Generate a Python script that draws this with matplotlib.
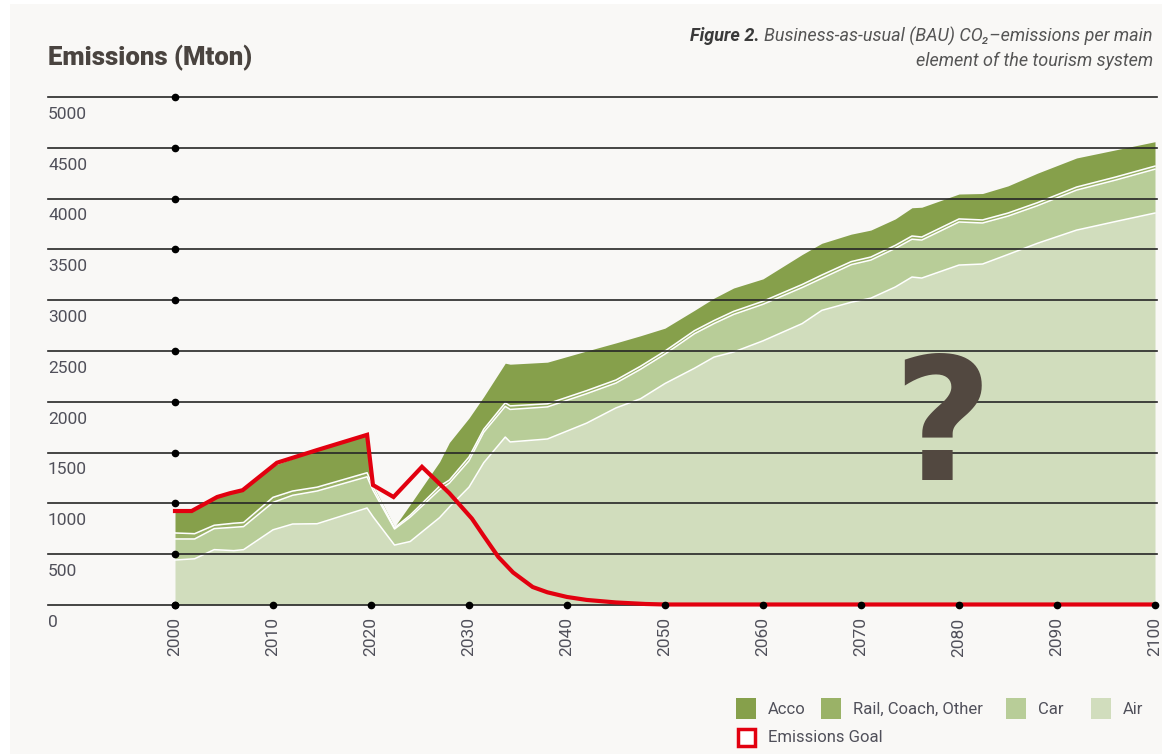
import matplotlib.pyplot as plt
from matplotlib.patches import Rectangle

# Datos (Mton)
years = [2000, 2002, 2004, 2006, 2007, 2010, 2012, 2014.5, 2019.6, 2020.2,
         2022.4, 2024, 2027, 2028, 2030, 2031.5, 2033.7, 2034.2, 2038, 2042,
         2045, 2047.5, 2050, 2053, 2055, 2057, 2060, 2064, 2066, 2069,
         2071, 2073.5, 2075.2, 2076.2, 2080, 2082.4, 2085, 2088, 2092, 2096, 2100]
air  = [443, 455, 545, 535, 545, 740, 797, 800, 955, 870,
        590, 625, 860, 965, 1160, 1400, 1653, 1605, 1634, 1790,
        1940, 2030, 2180, 2330, 2440, 2490, 2600, 2770, 2900, 2980,
        3020, 3130, 3228, 3218, 3346, 3356, 3450, 3560, 3690, 3775, 3858]
car  = [207, 195, 207, 230, 227, 270, 283, 322, 307, 260,
        158, 240, 275, 235, 260, 300, 302, 320, 316, 290,
        245, 290, 290, 340, 330, 370, 360, 355, 315, 370,
        375, 380, 372, 374, 424, 404, 378, 370, 394, 408, 432]
rail = [59, 52, 33, 40, 40, 50, 42, 38, 40, 35,
        12, 20, 35, 30, 37, 30, 35, 35, 30, 30,
        30, 30, 30, 30, 30, 30, 30, 30, 33, 30,
        30, 30, 32, 30, 30, 30, 30, 30, 30, 30, 30]
acco = [216, 228, 265, 305, 318, 310, 318, 365, 373, 15,
        10, 105, 240, 370, 383, 320, 390, 410, 410, 390,
        365, 300, 225, 200, 220, 230, 220, 295, 312, 270,
        265, 260, 278, 293, 245, 260, 267, 290, 286, 267, 240]

goal_years = [2000, 2001.7, 2004.3, 2005.6, 2006.9, 2010.4, 2014.5, 2019.6, 2020.2,
              2022.3, 2025.2, 2028, 2030.3, 2031.5, 2033, 2034.5, 2036.5, 2038,
              2040, 2042, 2045, 2048, 2050, 2100]
goal = [925, 925, 1063, 1100, 1130, 1400, 1525, 1675, 1181,
        1063, 1360, 1100, 850, 680, 472, 320, 177, 125,
        79, 50, 25, 10, 5, 5]

grid_vals = [0, 500, 1000, 1500, 2000, 2500, 3000, 3500, 4000, 4500, 5000]
decades = list(range(2000, 2101, 10))
labels = ["Acco", "Rail, Coach, Other", "Car", "Air"]

c_acco = "#86a04b"
c_rail = "#9ab267"
c_car = "#b8cd98"
c_air = "#d1ddbd"
c_red = "#e2000f"
bg = "#f9f8f6"
txt = "#50505a"

plt.rcParams['font.family'] = ['Roboto', 'DejaVu Sans']

W, H = 1162, 754
fig = plt.figure(figsize=(W / 100, H / 100), dpi=100, facecolor="white")
fig.add_artist(Rectangle((10 / W, 0), 1, 1 - 4 / H, transform=fig.transFigure,
                         facecolor=bg, edgecolor="none", zorder=0))

# ejes en coordenadas de pixel
x0, x1 = 48, 1157
y_top = 97 - 508 / 5000 * 100
ax = fig.add_axes([x0 / W, (H - 605) / H, (x1 - x0) / W, (605 - y_top) / H])
ax.set_facecolor("none")
px_per_year = 9.8
ax.set_xlim(2000 - (175 - x0) / px_per_year, 2000 + (x1 - 175) / px_per_year)
ax.set_ylim(0, 5100)
for s in ax.spines.values():
    s.set_visible(False)

# areas apiladas
t_air = air
t_car = [a + b for a, b in zip(t_air, car)]
t_rail = [a + b for a, b in zip(t_car, rail)]
t_acco = [a + b for a, b in zip(t_rail, acco)]
ax.fill_between(years, 0, t_air, color=c_air, lw=0, zorder=1)
ax.fill_between(years, t_air, t_car, color=c_car, lw=0, zorder=1)
ax.fill_between(years, t_car, t_rail, color=c_rail, lw=0, zorder=1)
ax.fill_between(years, t_rail, t_acco, color=c_acco, lw=0, zorder=1)
for top in (t_air, t_car, t_rail):
    ax.plot(years, top, color="white", lw=1.1, zorder=2)

# lineas horizontales y puntos
for v in grid_vals:
    ax.axhline(v, color="#262626", lw=1.2, zorder=3, clip_on=False)
    ax.annotate(str(v), xy=(0, v), xycoords=("axes fraction", "data"),
                xytext=(0, -7), textcoords="offset points", ha="left", va="top",
                fontsize=12.5, color=txt)
ax.plot([2000] * len(grid_vals), grid_vals, "o", color="black", ms=4.5,
        zorder=6, clip_on=False)
ax.plot(decades, [0] * len(decades), "o", color="black", ms=4.5, zorder=6,
        clip_on=False)

# meta de emisiones
ax.plot(goal_years, goal, color=c_red, lw=3, zorder=5, solid_joinstyle="miter",
        clip_on=False)

ax.set_yticks([])
ax.set_xticks(decades)
ax.set_xticklabels([str(d) for d in decades], rotation=90, fontsize=12.5, color=txt)
ax.tick_params(axis="x", length=0, pad=9)

# signo de interrogacion
fig.text(942 / W, 1 - 480 / H, "?", ha="center", va="baseline", fontsize=124,
         fontweight="black", color="#524840", family="DejaVu Sans")

# titulos
fig.text(48 / W, 1 - 58 / H, "Emissions (Mton)", ha="left", va="center",
         fontsize=18.5, fontweight="black", color="#4a4440")
cap1 = fig.text(1153 / W, 1 - 36 / H, "Business-as-usual (BAU) CO\u2082\u2013emissions per main",
                ha="right", va="center", fontsize=13, style="italic", color="#555555")
fig.text(1153 / W, 1 - 61 / H, "element of the tourism system", ha="right",
         va="center", fontsize=13, style="italic", color="#555555")
plt.annotate("Figure 2. ", xy=(0, 0.5), xycoords=cap1, ha="right", va="center",
             fontsize=13, style="italic", fontweight="bold", color="#3a3a3a",
             annotation_clip=False)

# leyenda manual
sq = 20
leg = [(736, c_acco, labels[0]), (821, c_rail, labels[1]),
       (1006, c_car, labels[2]), (1091, c_air, labels[3])]
for x, c, lab in leg:
    fig.add_artist(Rectangle((x / W, 1 - 719 / H), sq / W, 21 / H,
                             transform=fig.transFigure, facecolor=c, edgecolor="none"))
    fig.text((x + 32) / W, 1 - 709 / H, lab, ha="left", va="center",
             fontsize=12, color=txt)
fig.add_artist(Rectangle((738 / W, 1 - 746 / H), 17 / W, 17 / H,
                         transform=fig.transFigure, facecolor="white",
                         edgecolor=c_red, lw=2.5))
fig.text(768 / W, 1 - 738 / H, "Emissions Goal", ha="left", va="center",
         fontsize=12, color=txt)

fig.savefig("out.png", dpi=100, facecolor=fig.get_facecolor())
